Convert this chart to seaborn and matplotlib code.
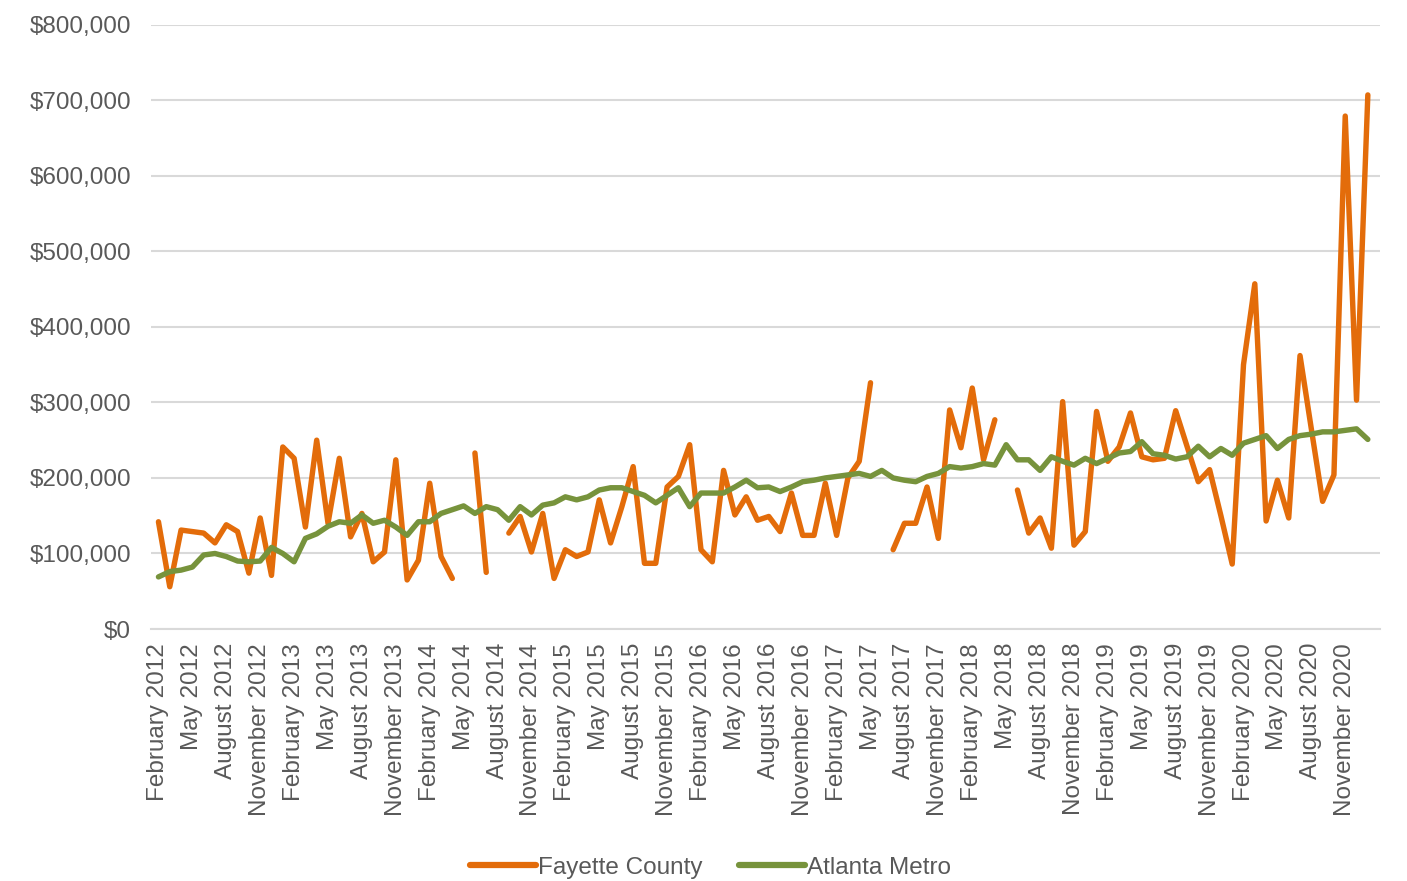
import numpy as np
import pandas as pd
import matplotlib
matplotlib.use("Agg")
import matplotlib.pyplot as plt
from matplotlib.lines import Line2D
from matplotlib.ticker import FuncFormatter
import seaborn as sns

# monthly median sale price, February 2012 - January 2021 (None = no sales)
fayette = [142, 56, 131, 129, 127, 114, 138, 129, 74, 147, 71, 241, 226, 135, 250, 140, 226, 122,
           153, 89, 102, 224, 65, 91, 193, 96, 67, None, 233, 75, None, 127, 149, 102, 153, 67,
           105, 96, 102, 171, 114, 162, 215, 87, 87, 188, 202, 244, 105, 89, 210, 151, 175, 144,
           149, 129, 180, 124, 124, 193, 124, 200, 222, 326, None, 105, 140, 140, 188, 120, 290, 240,
           319, 224, 277, None, 184, 127, 147, 107, 301, 111, 129, 288, 222, 241, 286, 228,
           224, 226, 289, 242, 195, 211, 150, 86, 350, 457, 143, 197, 147, 362, 265, 169, 204, 679, 303, 707]
atlanta = [69, 76, 78, 82, 98, 100, 96, 90, 89, 90, 108, 100, 89, 120, 126, 136, 142, 140,
           151, 140, 144, 135, 124, 142, 142, 153, 158, 163, 153, 162, 158, 144, 162, 151, 164, 167,
           175, 171, 175, 184, 187, 187, 182, 177, 167, 177, 187, 162, 180, 180, 180, 188, 197, 187,
           188, 182, 188, 195, 197, 200, 202, 204, 206, 202, 210, 200, 197, 195, 202, 206, 215, 213,
           215, 219, 217, 244, 224, 224, 210, 228, 222, 217, 226, 219, 226, 233, 235, 248,
           232, 230, 225, 228, 242, 228, 239, 230, 246, 251, 256, 239, 251, 256, 258, 261, 261, 263, 265, 251]
month_labels = list(pd.date_range("2012-02-01", periods=len(atlanta), freq="MS").strftime("%B %Y"))
series_names = ["Fayette County", "Atlanta Metro"]
colors = {"Fayette County": "#E36C0A", "Atlanta Metro": "#77933C"}

rows = []
seg = 0
for i, v in enumerate(fayette):
    if v is None:
        seg += 1
        continue
    rows.append({"month": i, "price": v * 1000, "series": "Fayette County", "seg": seg})
for i, v in enumerate(atlanta):
    rows.append({"month": i, "price": v * 1000, "series": "Atlanta Metro", "seg": 0})
df = pd.DataFrame(rows)

sns.set_style("white")
plt.rcParams["font.family"] = ["Liberation Sans", "DejaVu Sans"]
text_color = "#595959"

fig = plt.figure(figsize=(14.07, 8.81), dpi=100)
ax = fig.add_axes([0.107, 0.286, 0.874, 0.686])

ax.yaxis.grid(True, color="#D9D9D9", linewidth=1.5)
ax.set_axisbelow(True)

sns.lineplot(data=df, x="month", y="price", hue="series", units="seg", estimator=None,
             palette=colors, hue_order=series_names, linewidth=3.9, legend=False, ax=ax)

ax.set_ylim(0, 800000)
ax.set_xlim(-0.7, 108.1)
ax.yaxis.set_major_locator(plt.MultipleLocator(100000))
ax.yaxis.set_major_formatter(FuncFormatter(lambda v, p: f"${v:,.0f}"))
ax.set_xticks(range(0, len(month_labels), 3))
ax.set_xticklabels(month_labels[::3], rotation=90)
ax.tick_params(axis="both", length=0, labelsize=17.5, colors=text_color)
ax.tick_params(axis="y", pad=14)
ax.tick_params(axis="x", pad=10)
ax.set_xlabel("")
ax.set_ylabel("")

for s in ["top", "right", "left"]:
    ax.spines[s].set_visible(False)
ax.spines["bottom"].set_color("#D9D9D9")
ax.spines["bottom"].set_linewidth(1.5)

handles = [Line2D([], [], color=colors[n], linewidth=4.5) for n in series_names]
fig.legend(handles, series_names, loc="lower center", bbox_to_anchor=(0.505, -0.022), ncol=2,
           frameon=False, fontsize=17.5, labelcolor=text_color, handlelength=2.7,
           handletextpad=0.1, columnspacing=1.5)

fig.savefig("out.png", dpi=100)
